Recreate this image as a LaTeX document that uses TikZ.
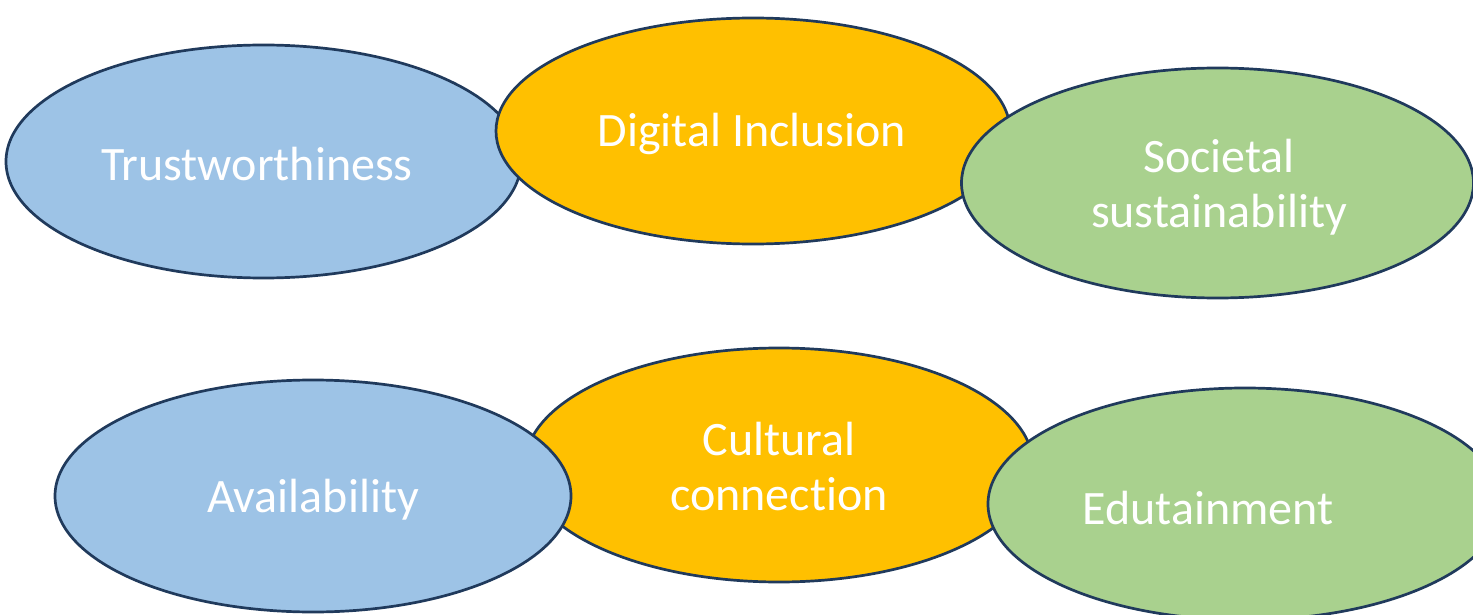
\documentclass[tikz,border=0pt]{standalone}
\usepackage{fontspec}
\setmainfont[Ligatures={NoCommon}]{Carlito}
\usetikzlibrary{shapes.geometric}
\definecolor{pillblue}{HTML}{9DC3E6}
\definecolor{pillorange}{HTML}{FFC000}
\definecolor{pillgreen}{HTML}{A9D18E}
\definecolor{pilledge}{HTML}{203A5C}
\begin{document}
\begin{tikzpicture}[x=0.5pt,y=-0.5pt,
  pill/.style={ellipse, draw=pilledge, line width=1.35pt, inner sep=0pt},
  caption/.style={text=white, font=\fontsize{24}{27.5}\selectfont, align=center, inner sep=0pt}]
\clip (0,0) rectangle (1473,615);
% top row: blue, then orange, then green
\node[pill, fill=pillblue, minimum width=515pt/2, minimum height=233pt/2] (trust) at (263.5,161.5) {};
\node[pill, fill=pillorange, minimum width=514pt/2, minimum height=226pt/2] (incl) at (753,131) {};
\node[pill, fill=pillgreen, minimum width=512pt/2, minimum height=230pt/2] (soc) at (1217.5,183) {};
\node[caption] (trustT) at (257,164) {Trustworthiness};
\node[caption] (inclT) at (752,134) {Digital Inclusion};
\node[caption] (socT) at (1219,187) {Societal\\sustainability};
% bottom row: orange first, blue and green above it
\node[pill, fill=pillorange, minimum width=508pt/2, minimum height=234pt/2] (cult) at (779,465) {};
\node[pill, fill=pillblue, minimum width=516pt/2, minimum height=232pt/2] (avail) at (313,496) {};
\node[pill, fill=pillgreen, minimum width=514pt/2, minimum height=232pt/2] (edu) at (1245,504) {};
\node[caption] (availT) at (313,500) {Availability};
\node[caption] (cultT) at (779,467) {Cultural\\connection};
\node[caption] (eduT) at (1208,508) {Edutainment};
\end{tikzpicture}
\end{document}
